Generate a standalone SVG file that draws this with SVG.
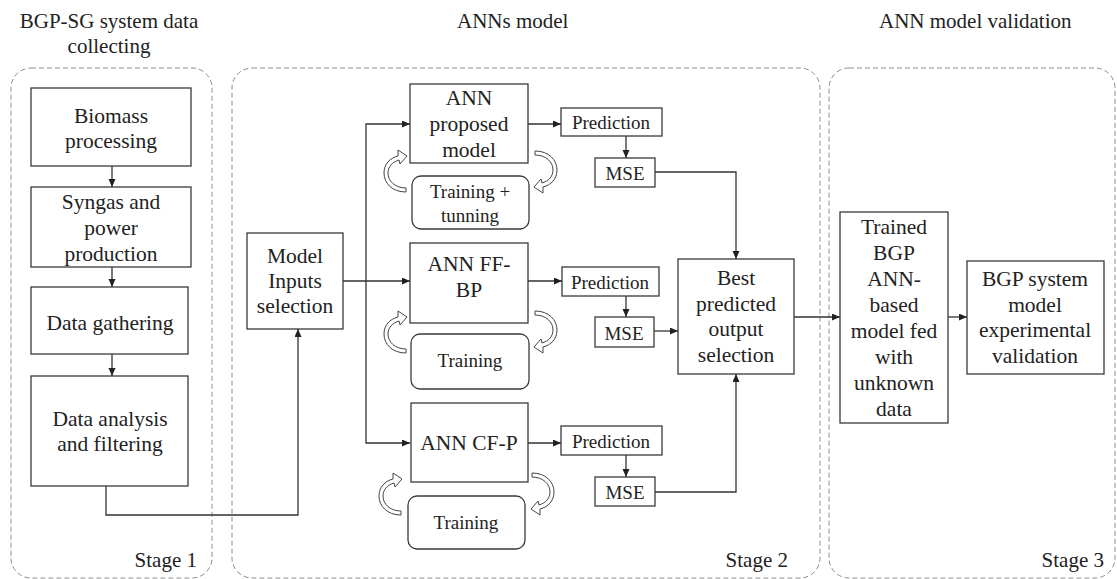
<svg xmlns="http://www.w3.org/2000/svg" width="1117" height="579" viewBox="0 0 1117 579" font-family="'Liberation Serif','Times New Roman','DejaVu Serif',serif">
<style>
text{fill:#222;text-anchor:middle}
.t{font-size:21.5px}
.s{font-size:19px}
.h{font-size:21px}
.hs{font-size:21px;text-anchor:start}
.st{font-size:21px;text-anchor:end}
.box{fill:#fff;stroke:#3a3a3a;stroke-width:1.3}
.stage{fill:none;stroke:#8c8c8c;stroke-width:1;stroke-dasharray:5 3}
.c{fill:none;stroke:#333;stroke-width:1.3}
.ca{fill:#fff;stroke:#444;stroke-width:1}
</style>
<defs>
<marker id="ah" markerUnits="userSpaceOnUse" markerWidth="9" markerHeight="8" refX="8" refY="3.5" orient="auto">
<path d="M0,0 L8,3.5 L0,7 z" fill="#222"/>
</marker>
<path id="curl" d="M 22 42 C 8 42 0 33 0 23 C 0 14 6 8 14 6 L 14 0 L 23 6 L 16 14 L 15 10 C 8 12 4 17 4 23 C 4 31 11 38 22 38 Z"/>
</defs>
<rect width="1117" height="579" fill="#fff"/>

<g id="titles">
<text class="h" x="109" y="28">BGP-SG system data</text>
<text class="h" x="109" y="53">collecting</text>
<text class="hs" x="457" y="28">ANNs model</text>
<text class="hs" x="879" y="28">ANN model validation</text>
</g>

<g id="stage1">
<rect class="stage" x="11" y="68" width="201" height="510" rx="20"/>
<text class="st" x="197" y="567">Stage 1</text>
</g>
<g id="stage2">
<rect class="stage" x="232" y="68" width="588" height="510" rx="20"/>
<text class="st" x="788" y="567">Stage 2</text>
</g>
<g id="stage3">
<rect class="stage" x="829" y="68" width="286" height="510" rx="20"/>
<text class="st" x="1104" y="567">Stage 3</text>
</g>

<g id="connectors">
<path class="c" d="M112 166 V187" marker-end="url(#ah)"/>
<path class="c" d="M112 267 V287" marker-end="url(#ah)"/>
<path class="c" d="M112 354 V376" marker-end="url(#ah)"/>
<path class="c" d="M106 486 V515 H298 V329" marker-end="url(#ah)"/>
<path class="c" d="M343 281 H410" marker-end="url(#ah)"/>
<path class="c" d="M366 281 V124 H410" marker-end="url(#ah)"/>
<path class="c" d="M366 281 V443 H410" marker-end="url(#ah)"/>
<path class="c" d="M528 124 H561" marker-end="url(#ah)"/>
<path class="c" d="M528 281 H562" marker-end="url(#ah)"/>
<path class="c" d="M528 443 H561" marker-end="url(#ah)"/>
<path class="c" d="M626 136 V158" marker-end="url(#ah)"/>
<path class="c" d="M626 296 V317" marker-end="url(#ah)"/>
<path class="c" d="M626 455 V477" marker-end="url(#ah)"/>
<path class="c" d="M655 172 H736 V259" marker-end="url(#ah)"/>
<path class="c" d="M654 331 H678" marker-end="url(#ah)"/>
<path class="c" d="M655 492 H736 V374" marker-end="url(#ah)"/>
<path class="c" d="M794 317 H840" marker-end="url(#ah)"/>
<path class="c" d="M948 317 H967" marker-end="url(#ah)"/>
<use href="#curl" class="ca" transform="translate(384,150)"/>
<use href="#curl" class="ca" transform="translate(557,193) rotate(180)"/>
<use href="#curl" class="ca" transform="translate(384,311)"/>
<use href="#curl" class="ca" transform="translate(557,353) rotate(180)"/>
<use href="#curl" class="ca" transform="translate(379,473)"/>
<use href="#curl" class="ca" transform="translate(554,515) rotate(180)"/>
</g>

<g id="biomass">
<rect class="box" x="31" y="88" width="160" height="78"/>
<text class="t" x="111" y="123">Biomass</text>
<text class="t" x="111" y="148">processing</text>
</g>
<g id="syngas">
<rect class="box" x="31" y="187" width="160" height="80"/>
<text class="t" x="111" y="209">Syngas and</text>
<text class="t" x="111" y="235">power</text>
<text class="t" x="111" y="261">production</text>
</g>
<g id="gathering">
<rect class="box" x="31" y="287" width="157" height="67"/>
<text class="t" x="110" y="330">Data gathering</text>
</g>
<g id="analysis">
<rect class="box" x="31" y="376" width="157" height="110"/>
<text class="t" x="110" y="426">Data analysis</text>
<text class="t" x="110" y="451">and filtering</text>
</g>
<g id="inputs">
<rect class="box" x="247" y="233" width="96" height="96"/>
<text class="t" x="295" y="263">Model</text>
<text class="t" x="295" y="288">Inputs</text>
<text class="t" x="295" y="313">selection</text>
</g>

<g id="ann-proposed">
<rect class="box" x="410" y="84" width="118" height="79"/>
<text class="t" x="469" y="105">ANN</text>
<text class="t" x="469" y="131">proposed</text>
<text class="t" x="469" y="157">model</text>
</g>
<g id="train1">
<rect class="box" x="412" y="176" width="117" height="53" rx="9"/>
<text class="s" x="470" y="198">Training +</text>
<text class="s" x="470" y="222">tunning</text>
</g>
<g id="pred1">
<rect class="box" x="561" y="108" width="101" height="28"/>
<text class="s" x="611" y="129">Prediction</text>
</g>
<g id="mse1">
<rect class="box" x="595" y="158" width="60" height="29"/>
<text class="s" x="625" y="180">MSE</text>
</g>

<g id="ann-ffbp">
<rect class="box" x="410" y="243" width="118" height="80"/>
<text class="t" x="469" y="271">ANN FF-</text>
<text class="t" x="469" y="297">BP</text>
</g>
<g id="train2">
<rect class="box" x="411" y="334" width="118" height="55" rx="9"/>
<text class="s" x="470" y="367">Training</text>
</g>
<g id="pred2">
<rect class="box" x="562" y="267" width="97" height="29"/>
<text class="s" x="610" y="289">Prediction</text>
</g>
<g id="mse2">
<rect class="box" x="595" y="317" width="59" height="30"/>
<text class="s" x="624" y="340">MSE</text>
</g>

<g id="ann-cfp">
<rect class="box" x="411" y="403" width="117" height="79"/>
<text class="t" x="469" y="450">ANN CF-P</text>
</g>
<g id="train3">
<rect class="box" x="408" y="496" width="117" height="53" rx="9"/>
<text class="s" x="466" y="529">Training</text>
</g>
<g id="pred3">
<rect class="box" x="561" y="426" width="101" height="29"/>
<text class="s" x="611" y="448">Prediction</text>
</g>
<g id="mse3">
<rect class="box" x="595" y="477" width="60" height="29"/>
<text class="s" x="625" y="499">MSE</text>
</g>

<g id="best">
<rect class="box" x="678" y="259" width="116" height="115"/>
<text class="t" x="736" y="285">Best</text>
<text class="t" x="736" y="311">predicted</text>
<text class="t" x="736" y="336">output</text>
<text class="t" x="736" y="362">selection</text>
</g>

<g id="trained">
<rect class="box" x="840" y="212" width="108" height="211"/>
<text class="t" x="894" y="234">Trained</text>
<text class="t" x="894" y="260">BGP</text>
<text class="t" x="894" y="286">ANN-</text>
<text class="t" x="894" y="312">based</text>
<text class="t" x="894" y="338">model fed</text>
<text class="t" x="894" y="364">with</text>
<text class="t" x="894" y="390">unknown</text>
<text class="t" x="894" y="416">data</text>
</g>
<g id="validation">
<rect class="box" x="967" y="261" width="137" height="113"/>
<text class="t" x="1035" y="286">BGP system</text>
<text class="t" x="1035" y="312">model</text>
<text class="t" x="1035" y="337">experimental</text>
<text class="t" x="1035" y="363">validation</text>
</g>
</svg>
